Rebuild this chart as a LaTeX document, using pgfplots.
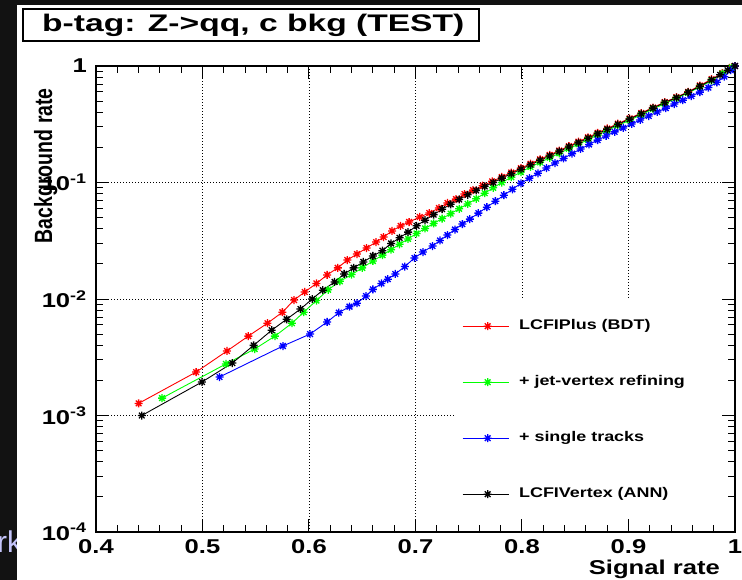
\documentclass[border=0pt]{standalone}
\usepackage{fontspec}
\setmainfont{Liberation Sans}
\usepackage{graphicx}
\usepackage{pgfplots}
\pgfplotsset{compat=1.18}
\definecolor{bgdark}{RGB}{18,18,18}
\definecolor{lav}{RGB}{196,196,250}
\definecolor{rred}{RGB}{255,0,0}
\definecolor{rgreen}{RGB}{0,255,0}
\definecolor{rblue}{RGB}{0,0,255}
\newcommand{\sx}[1]{\scalebox{1.28}[1]{#1}}
\newcommand{\rf}[1]{\fontsize{#1}{#1}\selectfont\bfseries}
\pgfdeclareplotmark{rstar}{%
  \pgfpathmoveto{\pgfqpoint{-\pgfplotmarksize}{0pt}}\pgfpathlineto{\pgfqpoint{\pgfplotmarksize}{0pt}}%
  \pgfpathmoveto{\pgfqpoint{0pt}{-\pgfplotmarksize}}\pgfpathlineto{\pgfqpoint{0pt}{\pgfplotmarksize}}%
  \pgfpathmoveto{\pgfqpoint{-0.707\pgfplotmarksize}{-0.707\pgfplotmarksize}}\pgfpathlineto{\pgfqpoint{0.707\pgfplotmarksize}{0.707\pgfplotmarksize}}%
  \pgfpathmoveto{\pgfqpoint{-0.707\pgfplotmarksize}{0.707\pgfplotmarksize}}\pgfpathlineto{\pgfqpoint{0.707\pgfplotmarksize}{-0.707\pgfplotmarksize}}%
  \pgfusepathqstroke}
\tikzset{gridst/.style={black, line width=0.9pt, dash pattern=on 1pt off 2pt}}
\begin{document}
\begin{tikzpicture}
\useasboundingbox (0pt,0pt) rectangle (742pt,580pt);
\fill[bgdark] (0pt,0pt) rectangle (742pt,580pt);
\node[anchor=base west, inner sep=0pt, text=lav, font=\fontsize{30}{30}\selectfont] at (-3pt,27pt) {rk};
\fill[white] (17pt,0pt) rectangle (742pt,575pt);
\draw[line width=1.3pt, fill=white] (23pt,539pt) rectangle (479pt,571pt);
\node[anchor=base west, inner sep=0pt] at (42pt,548pt) {\rf{24}\scalebox{1.4}[1]{b-tag: Z->qq, c bkg (TEST)}};
\begin{axis}[
  at={(96pt,48pt)}, anchor=south west,
  scale only axis, width=639pt, height=466pt,
  xmin=0.4, xmax=1, ymode=log, ymin=1e-4, ymax=1,
  axis line style={line width=1.3pt},
  tick align=inside,
  major tick length=13pt, minor tick length=7pt,
  every tick/.style={line width=1pt, black},
  xtick={0.4,0.5,0.6,0.7,0.8,0.9,1},
  xticklabels={\sx{0.4},\sx{0.5},\sx{0.6},\sx{0.7},\sx{0.8},\sx{0.9},\sx{1}},
  minor x tick num=4,
  ytick={1e-4,1e-3,1e-2,1e-1,1},
  yticklabels={\sx{10\textsuperscript{-4}},\sx{10\textsuperscript{-3}},\sx{10\textsuperscript{-2}},\sx{10\textsuperscript{-1}},\sx{1}},
  xticklabel style={font=\rf{20}, inner sep=0pt, text height=14.3pt, text depth=0pt, yshift=-7pt},
  yticklabel style={font=\rf{20}, inner sep=0pt, xshift=-9pt},
  xlabel={\sx{Signal rate}},
  xlabel style={at={(rel axis cs:0.9765,0)}, anchor=base east, yshift=-42pt, inner sep=0pt, font=\rf{20}},
  ylabel={\scalebox{1}[1.28]{Background rate}},
  ylabel style={at={(rel axis cs:0,0.9528)}, anchor=base east, yshift=44pt, inner sep=0pt, font=\rf{19.5}},
  every axis plot/.append style={line width=0.9pt, mark=rstar, mark size=4pt, mark options={line width=1.3pt, solid}},
  legend cell align=left,
  legend style={at={(0.5728,0.456)}, anchor=north west, draw=none, fill=none, inner sep=0pt,
    row sep=43pt, column sep=10pt, font=\rf{14},
    nodes={inner sep=0pt, text height=10pt, text depth=3pt}},
  legend image code/.code={\draw[mark repeat=2,mark phase=2,#1] plot coordinates {(0pt,0pt) (25pt,0pt) (46pt,0pt)};},
]
\draw[gridst] (axis cs:0.5,1e-4) -- (axis cs:0.5,1);
\draw[gridst] (axis cs:0.6,1e-4) -- (axis cs:0.6,1);
\draw[gridst] (axis cs:0.7,1e-4) -- (axis cs:0.7,1);
\draw[gridst] (axis cs:0.8,0.0102) -- (axis cs:0.8,1);
\draw[gridst] (axis cs:0.9,0.0102) -- (axis cs:0.9,1);
\draw[gridst] (axis cs:0.4,0.1) -- (axis cs:1,0.1);
\draw[gridst] (axis cs:0.4,0.01) -- (axis cs:0.737,0.01);
\draw[gridst] (axis cs:0.4,0.001) -- (axis cs:0.737,0.001);

\addplot[color=rred] coordinates {
(0.440,0.00127) (0.494,0.00236) (0.523,0.00358) (0.543,0.00480) (0.561,0.00620)
(0.575,0.00770) (0.586,0.00980) (0.596,0.01150) (0.607,0.01360) (0.617,0.01610)
(0.627,0.01850) (0.636,0.02160) (0.645,0.02430) (0.654,0.02740) (0.663,0.03080)
(0.670,0.03400) (0.678,0.03840) (0.686,0.04240) (0.694,0.04580) (0.704,0.05060)
(0.713,0.05470) (0.722,0.06040) (0.730,0.06670) (0.738,0.07200) (0.746,0.07960)
(0.754,0.08600) (0.763,0.0938) (0.772,0.1023) (0.781,0.1116) (0.790,0.1218)
(0.799,0.1329) (0.808,0.1450) (0.817,0.1582) (0.826,0.1725) (0.835,0.1882)
(0.844,0.2054) (0.853,0.2240) (0.862,0.2444) (0.871,0.2667) (0.880,0.2909)
(0.890,0.3200) (0.901,0.3550) (0.912,0.3950) (0.923,0.4400) (0.934,0.4900)
(0.945,0.5400) (0.956,0.6000) (0.967,0.6800) (0.978,0.7700) (0.988,0.8700)
(0.997,0.9800) (1.000,1.0000)
};
\addlegendentry{\sx{LCFIPlus (BDT)}}

\addplot[color=rgreen] coordinates {
(0.462,0.00141) (0.522,0.00277) (0.549,0.00372) (0.568,0.00480) (0.584,0.00620)
(0.595,0.00770) (0.607,0.00970) (0.618,0.01200) (0.629,0.01420) (0.640,0.01620)
(0.650,0.01850) (0.660,0.02120) (0.669,0.02380) (0.677,0.02650) (0.685,0.02950)
(0.693,0.03280) (0.701,0.03650) (0.709,0.04030) (0.717,0.04450) (0.725,0.04900)
(0.733,0.05400) (0.741,0.05950) (0.749,0.06550) (0.757,0.07250) (0.765,0.08100)
(0.773,0.09000) (0.781,0.10000) (0.790,0.11100) (0.799,0.12300) (0.808,0.13600)
(0.817,0.14900) (0.826,0.16300) (0.835,0.17800) (0.844,0.19500) (0.853,0.21300)
(0.862,0.23300) (0.871,0.25500) (0.880,0.27900) (0.890,0.30800) (0.901,0.34200)
(0.912,0.38200) (0.923,0.42700) (0.934,0.47500) (0.945,0.52800) (0.956,0.58800)
(0.967,0.66000) (0.978,0.75000) (0.988,0.86000) (0.997,0.97000)
};
\addlegendentry{\sx{+ jet-vertex refining}}

\addplot[color=rblue] coordinates {
(0.516,0.00214) (0.5755,0.00395) (0.601,0.00500) (0.617,0.00635) (0.628,0.00763)
(0.638,0.00860) (0.645,0.00920) (0.6535,0.01060) (0.660,0.01210) (0.668,0.01360)
(0.674,0.01480) (0.681,0.01640) (0.690,0.01900) (0.699,0.02250) (0.707,0.02530)
(0.716,0.02850) (0.723,0.03180) (0.730,0.03540) (0.737,0.03950) (0.744,0.04400)
(0.751,0.04850) (0.759,0.05460) (0.767,0.06140) (0.775,0.06910) (0.783,0.07780)
(0.791,0.08750) (0.799,0.09840) (0.807,0.10900) (0.815,0.12000) (0.823,0.13300)
(0.831,0.14700) (0.839,0.16100) (0.847,0.17700) (0.855,0.19400) (0.863,0.21200)
(0.871,0.23100) (0.879,0.25100) (0.887,0.27200) (0.895,0.29400) (0.903,0.31800)
(0.911,0.34400) (0.919,0.37200) (0.927,0.40300) (0.935,0.43500) (0.943,0.47100)
(0.951,0.50900) (0.959,0.55100) (0.967,0.59700) (0.975,0.65300) (0.983,0.72400)
(0.990,0.81000) (0.996,0.92000) (1.000,1.00000)
};
\addlegendentry{\sx{+ single tracks}}

\addplot[color=black] coordinates {
(0.443,0.00100) (0.4995,0.00194) (0.528,0.00282) (0.548,0.00400) (0.565,0.00540)
(0.579,0.00670) (0.592,0.00820) (0.603,0.01000) (0.613,0.01190) (0.624,0.01400)
(0.633,0.01640) (0.642,0.01850) (0.651,0.02080) (0.660,0.02340) (0.669,0.02600)
(0.677,0.03000) (0.685,0.03350) (0.693,0.03750) (0.701,0.04250) (0.709,0.04750)
(0.717,0.05300) (0.725,0.05900) (0.733,0.06500) (0.741,0.07150) (0.749,0.07850)
(0.757,0.08550) (0.765,0.09250) (0.773,0.10000) (0.781,0.10900) (0.790,0.11900)
(0.799,0.13000) (0.808,0.14200) (0.817,0.15500) (0.826,0.16900) (0.835,0.18500)
(0.844,0.20200) (0.853,0.22000) (0.862,0.24000) (0.871,0.26200) (0.880,0.28600)
(0.890,0.31500) (0.901,0.35000) (0.912,0.39000) (0.923,0.43500) (0.934,0.48500)
(0.945,0.53500) (0.956,0.59500) (0.967,0.67000) (0.978,0.76000) (0.986,0.84000)
(0.993,0.92000) (1.000,1.00000)
};
\addlegendentry{\sx{LCFIVertex (ANN)}}
\end{axis}
\end{tikzpicture}
\end{document}
